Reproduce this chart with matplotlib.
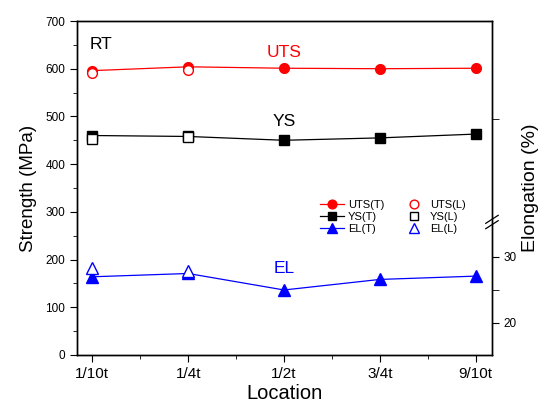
import matplotlib
matplotlib.use("Agg")
import matplotlib.pyplot as plt
import numpy as np
from matplotlib.ticker import MultipleLocator, FixedLocator

plt.rcParams['font.family'] = ['Liberation Sans', 'DejaVu Sans']

locations = ['1/10t', '1/4t', '1/2t', '3/4t', '9/10t']

# strength (MPa), T direction at all locations, L only at first two
uts_t = [596, 604, 601, 600, 601]
ys_t = [460, 458, 450, 455, 463]
uts_l = [592, 598]
ys_l = [452, 456]

# elongation (%)
el_t = [27.0, 27.5, 25.0, 26.6, 27.1]
el_l = [28.4, 27.9]

red = '#ff0000'
blue = '#0000ff'

x = np.arange(len(locations))
xl = x[:len(uts_l)]

fig = plt.figure(figsize=(5.43, 4.07), dpi=100)
ax = fig.add_axes([0.1418, 0.1278, 0.7642, 0.8206])
ax2 = ax.twinx()

h1, = ax.plot(x, uts_t, color=red, lw=0.9, marker='o', ms=7, label='UTS(T)', zorder=3)
h2, = ax.plot(x, ys_t, color='black', lw=0.9, marker='s', ms=6.5, label='YS(T)', zorder=3)
h4, = ax.plot(xl, uts_l, ls='none', marker='o', ms=7, mfc='white', mec=red, mew=1, label='UTS(L)', zorder=4)
h5, = ax.plot(xl, ys_l, ls='none', marker='s', ms=6.5, mfc='white', mec='black', mew=1, label='YS(L)', zorder=4)

h3, = ax2.plot(x, el_t, color=blue, lw=0.9, marker='^', ms=8.5, label='EL(T)', zorder=3)
h6, = ax2.plot(xl, el_l, ls='none', marker='^', ms=8.5, mfc='white', mec=blue, mew=1, label='EL(L)', zorder=4)

ax.set_xlim(-0.16, 4.17)
ax.set_ylim(0, 700)
ax.set_xticks(x)
ax.set_xticklabels(locations, fontsize=11)
ax.xaxis.set_minor_locator(MultipleLocator(0.5))
ax.yaxis.set_major_locator(MultipleLocator(100))
ax.yaxis.set_minor_locator(MultipleLocator(50))
ax.tick_params(axis='y', which='major', labelsize=8.5, length=5, direction='out')
ax.tick_params(axis='y', which='minor', length=3, direction='out')
ax.tick_params(axis='x', which='major', length=5, direction='out', pad=4)
ax.tick_params(axis='x', which='minor', length=3, direction='out')

ax2.set_ylim(15.15, 65.76)
ax2.set_yticks([20, 30])
ax2.yaxis.set_minor_locator(FixedLocator([25, 50.9]))
ax2.tick_params(axis='y', which='major', labelsize=8.5, length=5, direction='out')
ax2.tick_params(axis='y', which='minor', length=5, direction='out')

for a in (ax, ax2):
    for s in a.spines.values():
        s.set_linewidth(1.0)

ax.set_xlabel('Location', fontsize=14.5, labelpad=2)
ax.set_ylabel('Strength (MPa)', fontsize=13.5, labelpad=6)
ax2.set_ylabel('Elongation (%)', fontsize=14, labelpad=4)

# axis break marks on the right spine
yb = (35.3 - 15.15) / (65.76 - 15.15)
for dy in (-0.008, 0.008):
    ax2.plot([0.985, 1.015], [yb + dy - 0.012, yb + dy + 0.012], transform=ax2.transAxes,
             color='black', lw=0.9, clip_on=False)

ax.text(0.03, 0.93, 'RT', transform=ax.transAxes, fontsize=12.5, va='center')
ax.text(2.0, 635, 'UTS', color=red, fontsize=12.5, ha='center', va='center')
ax.text(2.0, 490, 'YS', color='black', fontsize=12.5, ha='center', va='center')
ax.text(2.0, 182, 'EL', color=blue, fontsize=12.5, ha='center', va='center')

ax.legend([h1, h2, h3, h4, h5, h6], ['UTS(T)', 'YS(T)', 'EL(T)', 'UTS(L)', 'YS(L)', 'EL(L)'],
          ncol=2, frameon=False, fontsize=8, loc='upper left', bbox_to_anchor=(0.575, 0.478),
          handlelength=2.2, handletextpad=0.3, columnspacing=1.6, labelspacing=0.2,
          markerscale=0.9, borderaxespad=0)

fig.savefig('out.png', dpi=100)
